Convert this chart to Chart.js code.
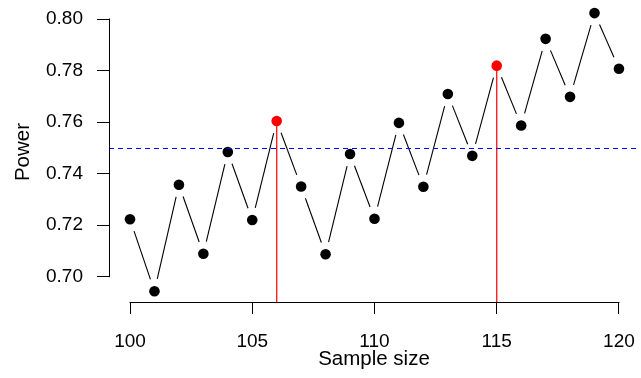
<!DOCTYPE html>
<html>
<head>
<meta charset="utf-8">
<script src="https://cdn.jsdelivr.net/npm/chart.js@4.4.0/dist/chart.umd.min.js"></script>
<style>
  html, body { margin: 0; padding: 0; background: #fff; }
  #wrap { width: 641px; height: 378px; }
</style>
</head>
<body>
<div id="wrap"><canvas id="powerChart" width="641" height="378"></canvas></div>
<script>
// values
const sampleSizes = [100, 101, 102, 103, 104, 105, 106, 107, 108, 109, 110,
                     111, 112, 113, 114, 115, 116, 117, 118, 119, 120];
const power = [0.7223, 0.6944, 0.7357, 0.7089, 0.7484, 0.7220, 0.7604, 0.7350, 0.7087, 0.7476, 0.7225,
               0.7597, 0.7349, 0.7709, 0.7469, 0.7819, 0.7587, 0.7923, 0.7698, 0.8023, 0.7807];
const highlight = [106, 115];
const targetPower = 0.75;
const xTicks = [100, 105, 110, 115, 120];
const yTicks = [0.70, 0.72, 0.74, 0.76, 0.78, 0.80];

const TICK_FONT = { family: "'Liberation Sans', Arial, sans-serif", size: 19 };
const TITLE_FONT = { family: "'Liberation Sans', Arial, sans-serif", size: 20.5 };
const GAP = 12.5; // R type="b" leaves a gap round each point

function crisp(v) { return Math.round(v) + 0.5; }

const rStyle = {
  id: 'rStyle',
  beforeDatasetsDraw(chart) {
    const { ctx, chartArea, scales: { x, y } } = chart;
    ctx.save();
    // gapped connecting segments
    ctx.strokeStyle = '#000';
    ctx.lineWidth = 1.1;
    for (let i = 0; i < sampleSizes.length - 1; i++) {
      const x0 = x.getPixelForValue(sampleSizes[i]), y0 = y.getPixelForValue(power[i]);
      const x1 = x.getPixelForValue(sampleSizes[i + 1]), y1 = y.getPixelForValue(power[i + 1]);
      const dx = x1 - x0, dy = y1 - y0, len = Math.hypot(dx, dy);
      if (len <= 2 * GAP) continue;
      const ux = dx / len, uy = dy / len;
      ctx.beginPath();
      ctx.moveTo(x0 + ux * GAP, y0 + uy * GAP);
      ctx.lineTo(x1 - ux * GAP, y1 - uy * GAP);
      ctx.stroke();
    }
    // red drop lines from the highlighted points
    ctx.strokeStyle = '#ff2020';
    ctx.lineWidth = 1.4;
    highlight.forEach(n => {
      const i = sampleSizes.indexOf(n);
      const px = x.getPixelForValue(n);
      ctx.beginPath();
      ctx.moveTo(px, y.getPixelForValue(power[i]));
      ctx.lineTo(px, chartArea.bottom);
      ctx.stroke();
    });
    ctx.restore();
  },
  afterDatasetsDraw(chart) {
    const { ctx, chartArea, scales: { x, y } } = chart;
    ctx.save();
    // target power line
    ctx.strokeStyle = '#0000ff';
    ctx.lineWidth = 1;
    ctx.setLineDash([5, 4]);
    const hy = crisp(y.getPixelForValue(targetPower));
    ctx.beginPath();
    ctx.moveTo(chartArea.left, hy);
    ctx.lineTo(chartArea.right, hy);
    ctx.stroke();
    ctx.setLineDash([]);
    // axis lines only across the tick range, like R
    ctx.strokeStyle = '#000';
    const ax = crisp(chartArea.left);
    ctx.beginPath();
    ctx.moveTo(ax, y.getPixelForValue(yTicks[0]) + 0.5);
    ctx.lineTo(ax, y.getPixelForValue(yTicks[yTicks.length - 1]) - 0.5);
    ctx.stroke();
    const ay = crisp(chartArea.bottom);
    ctx.beginPath();
    ctx.moveTo(x.getPixelForValue(xTicks[0]) - 0.5, ay);
    ctx.lineTo(x.getPixelForValue(xTicks[xTicks.length - 1]) + 0.5, ay);
    ctx.stroke();
    ctx.restore();
  }
};

new Chart(document.getElementById('powerChart'), {
  type: 'scatter',
  data: {
    datasets: [{
      data: sampleSizes.map((n, i) => ({ x: n, y: power[i] })),
      pointRadius: 5.3,
      pointBorderWidth: 0,
      pointBackgroundColor: c => highlight.includes(sampleSizes[c.dataIndex]) ? '#ff0000' : '#000',
      showLine: false,
      clip: false
    }]
  },
  options: {
    responsive: false,
    animation: false,
    layout: { padding: { top: 2, right: 2, left: 0, bottom: 0 }, autoPadding: false },
    plugins: { legend: { display: false }, tooltip: { enabled: false } },
    scales: {
      x: {
        type: 'linear',
        min: 99.14,
        max: 120.82,
        afterBuildTicks: s => { s.ticks = xTicks.map(v => ({ value: v })); },
        afterFit: s => { s.height = 76; s.paddingLeft = 0; s.paddingRight = 0; },
        ticks: { font: TICK_FONT, color: '#000', padding: 16, maxRotation: 0, autoSkip: false, callback: v => String(v) },
        grid: { drawOnChartArea: false, drawTicks: true, tickLength: 12, color: '#000' },
        border: { display: false },
        title: { display: true, text: 'Sample size', font: TITLE_FONT, color: '#000', padding: { top: 0, bottom: 6 } }
      },
      y: {
        min: 0.6902,
        max: 0.8066,
        afterBuildTicks: s => { s.ticks = yTicks.map(v => ({ value: v })); },
        afterFit: s => { s.width = 109; s.paddingTop = 0; s.paddingBottom = 0; },
        ticks: { font: TICK_FONT, color: '#000', padding: 14, autoSkip: false, callback: v => v.toFixed(2) },
        grid: { drawOnChartArea: false, drawTicks: true, tickLength: 12, color: '#000' },
        border: { display: false },
        title: { display: true, text: 'Power', font: TITLE_FONT, color: '#000', padding: { top: 11, bottom: 0 } }
      }
    }
  },
  plugins: [rStyle]
});
</script>
</body>
</html>
